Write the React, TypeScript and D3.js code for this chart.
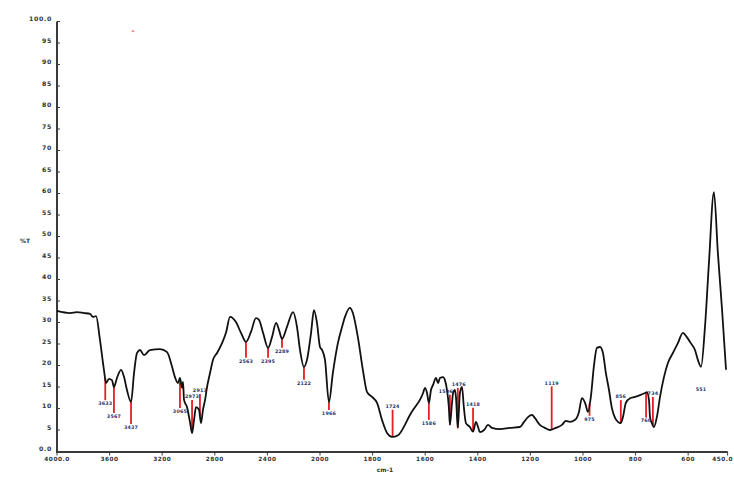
import React from "react";
import * as d3 from "d3";

// Infrared spectrum: wavenumber (cm-1) vs. transmittance (%T)
const wavenumbers = [
  4000, 3901, 3848, 3795, 3749, 3726, 3703, 3673, 3643, 3627, 3605, 3582, 3567, 3544, 3513, 3490, 3468, 3437,
  3414, 3392, 3369, 3338, 3293, 3217, 3163, 3125, 3103, 3080, 3065, 3049, 3042, 3034, 3011, 2989, 2973, 2958,
  2943, 2920, 2905, 2890, 2874, 2859, 2836, 2814, 2783, 2745, 2715, 2684, 2639, 2601, 2563, 2525, 2487, 2464,
  2433, 2395, 2365, 2334, 2312, 2289, 2251, 2205, 2175, 2152, 2122, 2099, 2068, 2046, 2023, 2000,
  1992, 1981, 1966, 1951, 1932, 1916, 1905, 1886, 1875, 1856, 1837, 1821, 1802, 1783, 1764, 1745, 1726, 1703,
  1677, 1658, 1639, 1620, 1608, 1601, 1593, 1586, 1578, 1570, 1559, 1551, 1544, 1532, 1525, 1517, 1510, 1506,
  1498, 1494, 1487, 1483, 1476, 1468, 1460, 1453, 1445, 1430, 1418, 1407, 1399, 1392, 1376, 1361, 1346, 1316,
  1278, 1240, 1224, 1209, 1194, 1183, 1164, 1145, 1126, 1103, 1080, 1065, 1050, 1031, 1016, 1004, 992, 981,
  970, 958, 947, 935, 924, 913, 901, 890, 878, 867, 856, 848, 837, 821, 802, 783, 764, 757, 749, 745, 738, 730,
  719, 707, 692, 677, 658, 639, 620, 605, 590, 574, 563, 551, 536, 521, 502, 487, 471, 456,
];
const transmittance = [
  32.7, 32.2, 32.4, 32.2, 32.0, 31.3, 31.5, 25.9, 19.0, 15.9, 16.9, 16.6, 15.0, 17.1, 19.0, 17.3, 14.3, 11.5,
  18.3, 22.9, 23.6, 22.4, 23.6, 23.8, 23.1, 19.7, 17.3, 15.9, 17.1, 14.8, 16.2, 12.0, 10.3, 6.9, 4.3, 7.3,
  10.3, 9.7, 6.6, 9.7, 12.0, 15.0, 18.3, 21.3, 22.9, 25.2, 27.6, 31.3, 30.1, 27.6, 25.5, 27.8, 31.0, 30.6,
  27.6, 24.1, 26.6, 29.9, 28.3, 26.2, 29.0, 32.4, 29.0, 23.6, 19.7, 21.3, 27.6, 32.9, 29.9, 24.3,
  23.6, 21.3, 11.5, 18.3, 25.2, 29.0, 31.3, 33.4, 32.2, 26.6, 19.0, 13.8, 12.7, 11.3, 7.3, 4.3, 3.4, 3.8,
  6.2, 8.5, 10.3, 12.0, 13.6, 14.8, 13.6, 11.3, 14.3, 15.5, 17.1, 15.9, 17.1, 17.3, 16.6, 14.3, 10.3, 6.2,
  11.3, 13.6, 14.3, 12.7, 5.5, 13.6, 15.0, 10.3, 6.6, 5.7, 4.6, 6.9, 5.7, 4.5, 5.0, 6.2, 5.5, 5.2,
  5.5, 5.7, 6.9, 8.0, 8.5, 7.8, 6.2, 5.5, 5.0, 5.5, 6.2, 7.1, 6.9, 7.3, 9.0, 12.4, 11.3, 9.2,
  12.7, 20.1, 24.1, 24.3, 22.9, 18.3, 14.3, 10.1, 7.8, 6.9, 6.6, 8.0, 11.3, 12.4, 12.7, 13.1, 13.6, 13.8, 12.0, 8.0, 6.6, 5.7,
  8.0, 12.7, 17.3, 20.6, 22.9, 25.2, 27.6, 26.6, 25.2, 23.6, 21.3, 19.7, 29.0, 43.8, 60.3, 46.2, 32.9, 19.0,
];

// Annotated absorption bands
const peakWavenumbers = [3633, 3567, 3437, 3065, 2973, 2913, 2563, 2395, 2289, 2122, 1966, 1724, 1586, 1506, 1476, 1418, 1119, 975, 856, 760, 734, 551];
// marker length in px from the curve (positive = label below, negative = label above), 0 = label only
const peakOffsets = [22, 26, 22, 30, -33, -22, 16, 10, 9, 13, 8, -27, 17, -30, -40, -24, -43, 12, -23, 25, -28, 19];
const peakLabelShift = [0, 0, 0, 0, 0, 0, 0, 0, 0, 0, 0, 0, 0, -4, 1, 0, 0, 0, 0, 0, 0, 0];
const peakMarker = [true, true, true, true, true, true, true, true, true, true, true, true, true, true, true, true, true, true, true, true, true, false];

const yTicks = [0, 5, 10, 15, 20, 25, 30, 35, 40, 45, 50, 55, 60, 65, 70, 75, 80, 85, 90, 95, 100];
const xTicks = [4000, 3600, 3200, 2800, 2400, 2000, 1800, 1600, 1400, 1200, 1000, 800, 600, 450];

const W = 734;
const H = 477;

export default function App() {
  // spectrum is scale-expanded ×2 below 2000 cm-1
  const x = d3.scaleLinear().domain([4000, 2000, 450]).range([57, 320, 727.6]);
  const y = d3.scaleLinear().domain([0, 100]).range([451.5, 21.5]);

  const pts: [number, number][] = wavenumbers.map((w, i) => [w, transmittance[i]]);
  const line = d3
    .line<[number, number]>()
    .x((d) => x(d[0]))
    .y((d) => y(d[1]))
    .curve(d3.curveMonotoneX);

  const valueAt = (w: number) => {
    for (let i = 0; i < pts.length - 1; i++) {
      const [w0, t0] = pts[i];
      const [w1, t1] = pts[i + 1];
      if (w <= w0 && w >= w1) {
        const f = (w0 - w) / (w0 - w1);
        return t0 + f * (t1 - t0);
      }
    }
    return pts[pts.length - 1][1];
  };

  const fmtY = (v: number) => (v === 0 || v === 100 ? v.toFixed(1) : String(v));
  const fmtX = (v: number) => (v === 4000 || v === 450 ? v.toFixed(1) : String(v));

  const tickFont = { fontFamily: "DejaVu Sans, sans-serif", fontWeight: 700 as const };

  return (
    <svg
      width={W}
      height={H}
      style={{ position: "absolute", left: 0, top: 0, background: "#fff" }}
    >
      <rect width={W} height={H} fill="#fff" />

      {/* y axis */}
      <line x1={57} x2={57} y1={y(100)} y2={y(0) + 1} stroke="#3a3a3a" strokeWidth={2} />
      {yTicks.map((t) => (
        <g key={"y" + t}>
          <line x1={57} x2={60} y1={y(t)} y2={y(t)} stroke="#3a3a3a" strokeWidth={1} />
          <text
            x={52}
            y={y(t) - 2}
            textAnchor="end"
            dominantBaseline="middle"
            fontSize={6.2}
            letterSpacing={0.7}
            fill="#333"
            style={tickFont}
          >
            {fmtY(t)}
          </text>
        </g>
      ))}

      {/* x axis */}
      <line x1={56} x2={x(450)} y1={y(0) + 0.5} y2={y(0) + 0.5} stroke="#3a3a3a" strokeWidth={2} />
      {xTicks.map((t, i) => {
        const last = i === xTicks.length - 1;
        return (
          <g key={"x" + t}>
            <line x1={x(t)} x2={x(t)} y1={y(0)} y2={y(0) + 4} stroke="#3a3a3a" strokeWidth={1} />
            <text
              x={last ? W - 1 : x(t)}
              y={y(0) + 8}
              textAnchor={last ? "end" : "middle"}
              dominantBaseline="middle"
              fontSize={5.8}
              letterSpacing={0.5}
              fill="#333"
              style={tickFont}
            >
              {fmtX(t)}
            </text>
          </g>
        );
      })}

      {/* axis titles */}
      <text x={25} y={241} textAnchor="middle" dominantBaseline="middle" fontSize={6} fill="#333" style={tickFont}>
        %T
      </text>
      <text x={385} y={470} textAnchor="middle" dominantBaseline="middle" fontSize={6} fill="#333" style={tickFont}>
        cm-1
      </text>
      <text x={133} y={32} textAnchor="middle" dominantBaseline="middle" fontSize={7} fill="#e23030">
        *
      </text>

      {/* peak markers */}
      {peakWavenumbers.map((w, i) => {
        const px = x(w);
        const py = y(valueAt(w));
        const end = py + peakOffsets[i];
        return (
          <g key={"p" + w}>
            {peakMarker[i] && (
              <line x1={px} x2={px} y1={py} y2={end} stroke="#ea1c24" strokeWidth={1.8} />
            )}
          </g>
        );
      })}

      {/* spectrum */}
      <path d={line(pts) ?? ""} fill="none" stroke="#111" strokeWidth={1.8} strokeLinejoin="round" />

      {/* peak labels */}
      {peakWavenumbers.map((w, i) => {
        const px = x(w) + peakLabelShift[i];
        const py = y(valueAt(w));
        const off = peakOffsets[i];
        const end = py + off;
        const ly = off >= 0 ? end + 3.5 : end - 3;
        return (
          <text
            key={"l" + w}
            x={px}
            y={ly}
            textAnchor="middle"
            dominantBaseline="middle"
            fontSize={4.8}
            letterSpacing={0.2}
            fill="#24306a"
            style={tickFont}
          >
            {w}
          </text>
        );
      })}
    </svg>
  );
}
